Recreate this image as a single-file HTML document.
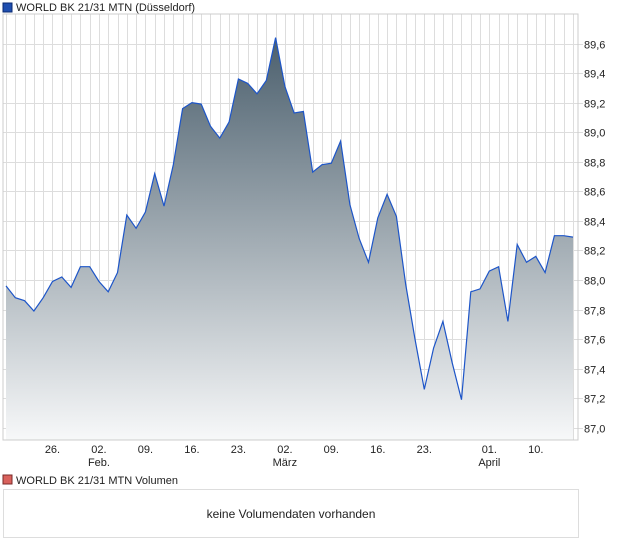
<!DOCTYPE html>
<html><head><meta charset="utf-8"><style>
body{margin:0;background:#fff;width:620px;height:546px;overflow:hidden;font-family:"Liberation Sans",sans-serif}
svg{position:absolute;left:0;top:0}
</style></head><body>
<svg width="620" height="546" font-family="Liberation Sans, sans-serif">
<defs><linearGradient id="g" x1="0" y1="0" x2="0" y2="1">
<stop offset="0" stop-color="#4b5f6d"/><stop offset="1" stop-color="#f7f8f9"/></linearGradient></defs>
<rect x="3" y="3" width="9" height="9" fill="#1f4fb0" stroke="#0a2a70"/>
<text x="16" y="11" font-size="11" fill="#222">WORLD BK 21/31 MTN (Düsseldorf)</text>
<g id="grid"></g>
<path id="area" fill="url(#g)"/>
<path id="line" fill="none" stroke="#1d55c8" stroke-width="1.2"/>
<rect x="3" y="14" width="575" height="426" fill="none" stroke="#ccc"/>
<g id="yt" font-size="11" fill="#222"></g>
<g id="xt" font-size="11" fill="#222" text-anchor="middle"></g>
<rect x="3" y="475" width="9" height="9" fill="#d9615c" stroke="#7a2a28"/>
<text x="16" y="484" font-size="11" fill="#222">WORLD BK 21/31 MTN Volumen</text>
<rect x="3.5" y="489.5" width="575" height="48" fill="#fff" stroke="#ddd"/>
<text x="291" y="518" font-size="12" fill="#222" text-anchor="middle">keine Volumendaten vorhanden</text>
</svg>
<script>
const prices=[87.96,87.88,87.86,87.79,87.88,87.99,88.02,87.95,88.09,88.09,87.99,87.92,88.05,88.44,88.35,88.46,88.72,88.50,88.78,89.16,89.20,89.19,89.04,88.96,89.07,89.36,89.33,89.26,89.35,89.64,89.31,89.13,89.14,88.73,88.78,88.79,88.94,88.51,88.28,88.12,88.42,88.58,88.43,87.97,87.60,87.26,87.54,87.72,87.44,87.19,87.92,87.94,88.06,88.09,87.72,88.24,88.12,88.16,88.05,88.30,88.30,88.29];
const yTicks=[87.0,87.2,87.4,87.6,87.8,88.0,88.2,88.4,88.6,88.8,89.0,89.2,89.4,89.6];
const xTickIdx=[5,10,15,20,25,30,35,40,45,52,57];
const xTickLabels=["26.","02.","09.","16.","23.","02.","09.","16.","23.","01.","10."];
const monthIdx=[10,30,52];
const monthLabels=["Feb.","März","April"];
const NS="http://www.w3.org/2000/svg";
const X=i=>6+i*(567/(prices.length-1));
const Y=v=>280-(v-88)*147.8;
const grid=document.getElementById('grid');
for(let i=0;i<prices.length;i++){const l=document.createElementNS(NS,'line');


const x=Math.round(X(i))+0.5;l.setAttribute('x1',x);l.setAttribute('x2',x);l.setAttribute('y1',14);l.setAttribute('y2',440);l.setAttribute('stroke','#ddd');grid.appendChild(l);}
const yt=document.getElementById('yt');
yTicks.forEach(v=>{const y=Math.round(Y(v))+0.5;const l=document.createElementNS(NS,'line');


l.setAttribute('x1',3);l.setAttribute('x2',583);l.setAttribute('y1',y);l.setAttribute('y2',y);l.setAttribute('stroke','#ddd');grid.appendChild(l);
const t=document.createElementNS(NS,'text');


t.setAttribute('x',584);t.setAttribute('y',y+4);t.textContent=v.toFixed(1).replace('.',',');yt.appendChild(t);});
const xt=document.getElementById('xt');
xTickIdx.forEach((i,k)=>{const t=document.createElementNS(NS,'text');


t.setAttribute('x',X(i));t.setAttribute('y',453);t.textContent=xTickLabels[k];xt.appendChild(t);});
monthIdx.forEach((i,k)=>{const t=document.createElementNS(NS,'text');


t.setAttribute('x',X(i));t.setAttribute('y',466);t.textContent=monthLabels[k];xt.appendChild(t);});
let d=prices.map((v,i)=>(i?'L':'M')+X(i).toFixed(1)+' '+Y(v).toFixed(1)).join(' ');
document.getElementById('line').setAttribute('d',d);
document.getElementById('area').setAttribute('d',d+' L'+X(prices.length-1)+' 440 L'+X(0)+' 440 Z');
</script>
</body></html>
